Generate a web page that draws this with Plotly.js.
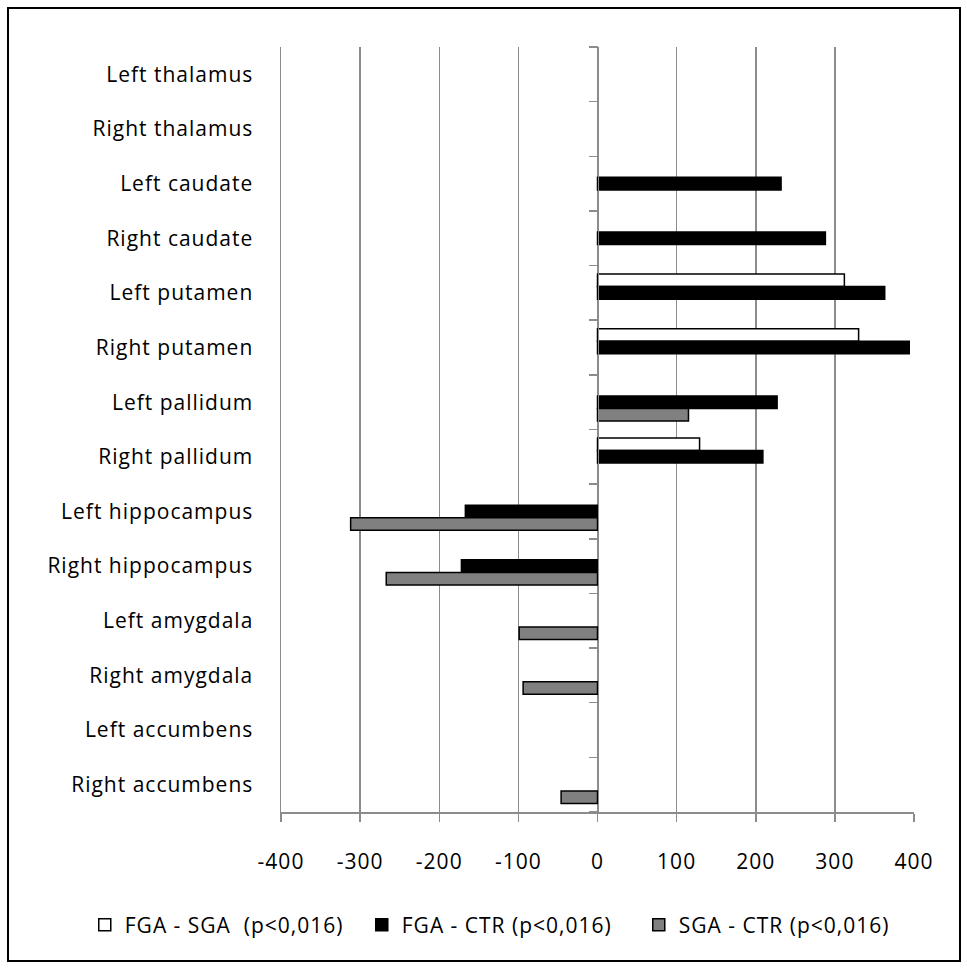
<!DOCTYPE html>
<html>
<head>
<meta charset="utf-8">
<script src="https://cdn.plot.ly/plotly-3.0.1.min.js"></script>
<style>
  html, body { margin: 0; padding: 0; background: #fff; }
  #frame { position: absolute; left: 7px; top: 7px; width: 954px; height: 955px; border: 2px solid #000; box-sizing: border-box; background:#fff; }
  #chart { width: 950px; height: 951px; }
  svg text { letter-spacing: 1px; }
</style>
</head>
<body>
<div id="frame"><div id="chart"></div></div>
<script>
const categories = ['Left thalamus','Right thalamus','Left caudate','Right caudate','Left putamen','Right putamen','Left pallidum','Right pallidum','Left hippocampus','Right hippocampus','Left amygdala','Right amygdala','Left accumbens','Right accumbens'];
const fgaSga = [null,null,null,null,312,330,null,129,null,null,null,null,null,null];
const fgaCtr = [null,null,232,288,363,394,227,209,-167,-172,null,null,null,null];
const sgaCtr = [null,null,null,null,null,null,115,null,-312,-267,-99,-94,null,-46];
const seriesNames = ['FGA - SGA\u00a0\u00a0(p<0,016)','FGA - CTR (p<0,016)','SGA - CTR (p<0,016)'];
const xTicks = [-400,-300,-200,-100,0,100,200,300,400];

const FONT = 'Open Sans, Lato, sans-serif';
const GRID = '#8c8c8c';

function barTrace(vals, name, fill) {
  return {
    type: 'bar', orientation: 'h', x: vals, y: categories, name: name,
    marker: { color: fill, line: { color: '#000', width: 1.5 } },
    hoverinfo: 'skip'
  };
}

const data = [
  barTrace(fgaSga, seriesNames[0], '#ffffff'),
  barTrace(fgaCtr, seriesNames[1], '#000000'),
  barTrace(sgaCtr, seriesNames[2], '#808080'),
  { type: 'scatter', x: [], y: [], xaxis: 'x', yaxis: 'y2', showlegend: false, hoverinfo: 'skip' }
];

const layout = {
  width: 950, height: 951,
  margin: { l: 272, r: 45, t: 38, b: 148 },
  paper_bgcolor: '#fff', plot_bgcolor: '#fff',
  font: { family: FONT, size: 21, color: '#000' },
  barmode: 'group', bargap: 0.31, bargroupgap: 0,
  showlegend: true,
  legend: {
    orientation: 'h', x: -0.31, xanchor: 'left', y: -0.148, yanchor: 'middle',
    font: { family: FONT, size: 21, color: '#000' },
    traceorder: 'normal', itemwidth: 30, entrywidth: 232
  },
  xaxis: {
    range: [-400, 400], tickvals: xTicks, ticktext: xTicks.map(String),
    showgrid: true, gridcolor: GRID, gridwidth: 1.5,
    zeroline: false, showline: true, linecolor: GRID, linewidth: 1.5,
    ticks: 'outside', ticklen: 8, tickcolor: GRID, tickwidth: 1.5,
    ticklabelstandoff: 22, fixedrange: true
  },
  yaxis: {
    type: 'category', categoryorder: 'array', categoryarray: categories,
    autorange: 'reversed', showgrid: false, zeroline: false,
    showline: true, linecolor: GRID, linewidth: 1.5,
    ticks: '', ticklabelstandoff: 22, fixedrange: true
  },
  yaxis2: {
    type: 'linear', range: [categories.length - 0.5, -0.5],
    overlaying: 'y', anchor: 'free', position: 0.5, side: 'left',
    tick0: -0.5, dtick: 1, ticks: 'outside', ticklen: 9, tickcolor: GRID, tickwidth: 1.5,
    showline: true, linecolor: GRID, linewidth: 1.5,
    showgrid: false, zeroline: false, showticklabels: false, fixedrange: true
  }
};

Plotly.newPlot('chart', data, layout, { displayModeBar: false, staticPlot: true });
</script>
</body>
</html>
